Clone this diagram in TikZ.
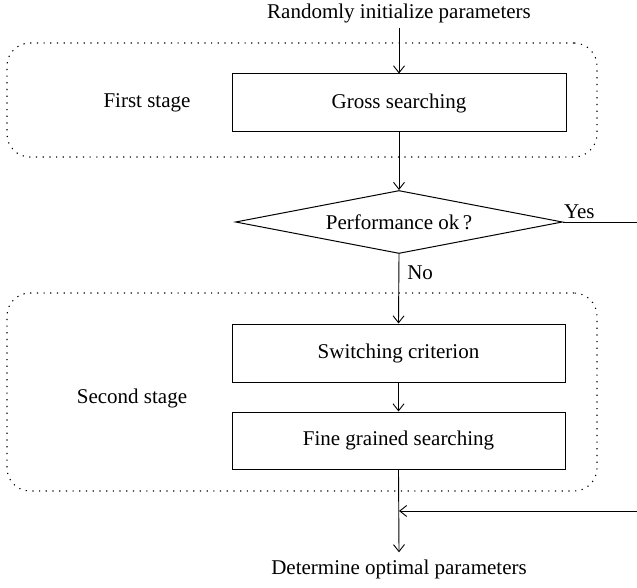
\documentclass[tikz,border=0pt]{standalone}
\usepackage{fontspec}
\setmainfont{Liberation Serif}
\usetikzlibrary{arrows.meta,shapes.geometric}
\begin{document}
\begin{tikzpicture}[x=1pt,y=-1pt,
  every node/.style={font=\fontsize{21}{25}\selectfont},
  txt/.style={inner sep=3pt},
  procbox/.style={draw, line width=1pt, minimum width=334pt, minimum height=58pt, inner sep=0pt},
  decision/.style={draw, diamond, aspect=5.2, line width=1pt, minimum width=327pt, minimum height=63pt, inner sep=0pt},
  stage/.style={draw, line width=1.1pt, dash pattern=on 1.2pt off 5.5pt, rounded corners=23pt, inner sep=0pt},
  conn/.style={line width=0.9pt},
  arr/.style={conn, -{Straight Barb[length=7pt,width=11pt]}}
]
\useasboundingbox (0,0) rectangle (637,588);
% stage frames
\node[stage, minimum width=590pt, minimum height=114pt] (s1) at (302,100) {};
\node[stage, minimum width=590pt, minimum height=198pt] (s2) at (302,392) {};
% nodes
\node[txt, inner ysep=5pt] (start) at (399,13) {Randomly initialize parameters};
\node[procbox] (gross) at (399,103) {Gross searching};
\node[txt] (first) at (147,103) {First stage};
\node[decision] (perf) at (399,222) {Performance ok\thinspace?};
\node[procbox, minimum width=333pt] (switch) at (398.5,353) {Switching criterion};
\node[procbox, minimum width=333pt, minimum height=57pt] (fine) at (398.5,440.5) {Fine grained searching};
\node[txt] (second) at (132,398) {Second stage};
\node[txt, inner ysep=7pt] (end) at (399,569) {Determine optimal parameters};
\coordinate (join) at (399,511);
\coordinate (yesend) at (637,222);
\coordinate (retstart) at (637,511);
% connectors
\draw[arr] (start.south) -- (gross.north);
\draw[arr] (gross.south) -- (perf.north);
\draw[arr] (perf.south) -- node[pos=0.27, right, inner sep=8pt] (no) {No} (switch.north);
\draw[arr] (switch.south) -- (fine.south |- fine.north);
\draw[arr] (fine.south) -- (end.north);
\draw[conn] (perf.east) -- node[pos=0.22, above, inner sep=3pt] (yes) {Yes} (yesend);
\draw[arr] (retstart) -- (join);
\end{tikzpicture}
\end{document}
